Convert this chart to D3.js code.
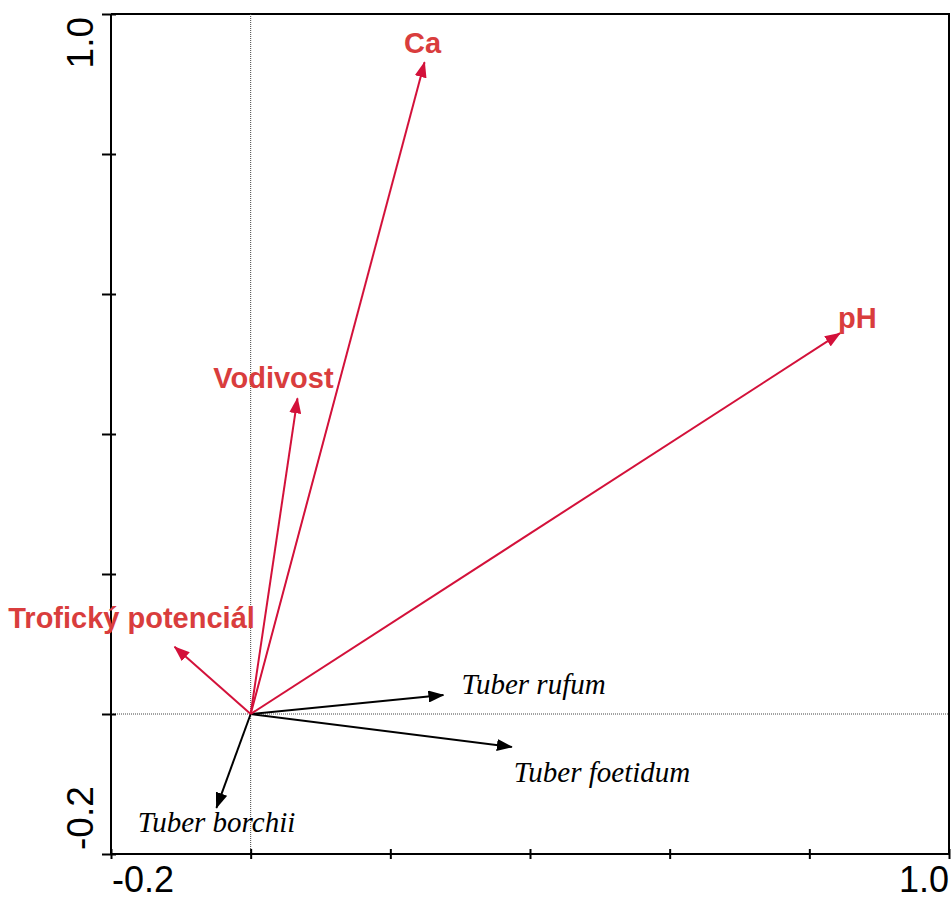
<!DOCTYPE html>
<html>
<head>
<meta charset="utf-8">
<script src="https://cdn.jsdelivr.net/npm/d3@7"></script>
<style>
  body { margin: 0; background: #fff; }
</style>
</head>
<body>
<div id="chart"></div>
<script>
// Environmental variables (red arrows)
const envNames = ["Ca", "pH", "Vodivost", "Trofický potenciál"]
const envX = [0.249, 0.844, 0.067, -0.109]
const envY = [0.931, 0.544, 0.451, 0.096]

// Species (black arrows)
const speciesNames = ["Tuber rufum", "Tuber foetidum", "Tuber borchii"]
const speciesX = [0.276, 0.374, -0.049]
const speciesY = [0.027, -0.047, -0.134]

const domain = [-0.2, 1.0]
const tickValues = [-0.2, 0, 0.2, 0.4, 0.6, 0.8, 1.0]
const endLabels = ["-0.2", "1.0"]

// label placement (pixel offsets from arrow tip)
const envLabelLayout = [
  { anchor: "middle", dx: -2, dy: -9 },
  { anchor: "start", dx: -2, dy: -5 },
  { anchor: "middle", dx: -24, dy: -10 },
  { anchor: "middle", dx: -43, dy: -19 },
]
const speciesLabelLayout = [
  { anchor: "start", dx: 18, dy: -1 },
  { anchor: "start", dx: 2, dy: 35 },
  { anchor: "middle", dx: 0, dy: 24 },
]

const width = 952
const height = 901
const plot = { left: 111, right: 949, top: 14, bottom: 854 }

const svg = d3.select("#chart")
  .append("svg")
  .attr("width", width)
  .attr("height", height)

const xScale = d3.scaleLinear().domain(domain).range([plot.left, plot.right])
const yScale = d3.scaleLinear().domain(domain).range([plot.bottom, plot.top])

const red = "#d3113a"
const redText = "#d93d3d"

const defs = svg.append("defs")
const marker = (id, color) => defs.append("marker")
  .attr("id", id)
  .attr("viewBox", "0 0 16 12")
  .attr("refX", 15)
  .attr("refY", 6)
  .attr("markerWidth", 16)
  .attr("markerHeight", 12)
  .attr("markerUnits", "userSpaceOnUse")
  .attr("orient", "auto")
  .append("path")
  .attr("d", "M0,0 L16,6 L0,12 Z")
  .attr("fill", color)
marker("head-red", red)
marker("head-black", "#000")

// frame: top and right borders
svg.append("path")
  .attr("d", `M${plot.left},${plot.top} H${plot.right} V${plot.bottom}`)
  .attr("fill", "none")
  .attr("stroke", "#000")
  .attr("stroke-width", 2)

// zero lines (dotted)
svg.append("line")
  .attr("x1", xScale(0)).attr("x2", xScale(0))
  .attr("y1", plot.top).attr("y2", plot.bottom)
  .attr("stroke", "#444").attr("stroke-width", 1)
  .attr("stroke-dasharray", "1,1")
svg.append("line")
  .attr("x1", plot.left).attr("x2", plot.right)
  .attr("y1", yScale(0)).attr("y2", yScale(0))
  .attr("stroke", "#444").attr("stroke-width", 1)
  .attr("stroke-dasharray", "1,1")

// axes
const xAxis = svg.append("g")
  .attr("transform", `translate(0,${plot.bottom})`)
  .call(d3.axisBottom(xScale).tickValues(tickValues).tickSize(5).tickFormat(""))
xAxis.select(".domain").attr("stroke-width", 2).attr("d", `M${plot.left},0H${plot.right}`)
xAxis.selectAll(".tick line").attr("y1", -5).attr("stroke-width", 2)

const yAxis = svg.append("g")
  .attr("transform", `translate(${plot.left},0)`)
  .call(d3.axisLeft(yScale).tickValues(tickValues).tickSize(9).tickFormat(""))
yAxis.select(".domain").attr("stroke-width", 2).attr("d", `M0,${plot.top}V${plot.bottom}`)
yAxis.selectAll(".tick line").attr("x2", -9).attr("x1", 5).attr("stroke-width", 2)

// end tick labels
const tickFont = "'Liberation Sans', Arial, sans-serif"
svg.append("text")
  .attr("x", plot.left + 1).attr("y", 892)
  .attr("font-family", tickFont).attr("font-size", 36)
  .text(endLabels[0])
svg.append("text")
  .attr("x", plot.right).attr("y", 892)
  .attr("text-anchor", "end")
  .attr("font-family", tickFont).attr("font-size", 36)
  .text(endLabels[1])
svg.append("text")
  .attr("transform", `translate(93,850) rotate(-90)`)
  .attr("font-family", tickFont).attr("font-size", 37)
  .text(endLabels[0])
svg.append("text")
  .attr("transform", `translate(93,17) rotate(-90)`)
  .attr("text-anchor", "end")
  .attr("font-family", tickFont).attr("font-size", 37)
  .text(endLabels[1])

// arrows
const env = envNames.map((name, i) => ({ name, x: envX[i], y: envY[i], layout: envLabelLayout[i] }))
const species = speciesNames.map((name, i) => ({ name, x: speciesX[i], y: speciesY[i], layout: speciesLabelLayout[i] }))

svg.append("g").selectAll("line")
  .data(species)
  .join("line")
  .attr("x1", xScale(0)).attr("y1", yScale(0))
  .attr("x2", d => xScale(d.x)).attr("y2", d => yScale(d.y))
  .attr("stroke", "#000").attr("stroke-width", 2)
  .attr("marker-end", "url(#head-black)")

svg.append("g").selectAll("line")
  .data(env)
  .join("line")
  .attr("x1", xScale(0)).attr("y1", yScale(0))
  .attr("x2", d => xScale(d.x)).attr("y2", d => yScale(d.y))
  .attr("stroke", red).attr("stroke-width", 2)
  .attr("marker-end", "url(#head-red)")

// labels
svg.append("g").selectAll("text")
  .data(env)
  .join("text")
  .attr("x", d => xScale(d.x) + d.layout.dx)
  .attr("y", d => yScale(d.y) + d.layout.dy)
  .attr("text-anchor", d => d.layout.anchor)
  .attr("font-family", tickFont)
  .attr("font-weight", "bold")
  .attr("font-size", 29)
  .attr("fill", redText)
  .text(d => d.name)

svg.append("g").selectAll("text")
  .data(species)
  .join("text")
  .attr("x", d => xScale(d.x) + d.layout.dx)
  .attr("y", d => yScale(d.y) + d.layout.dy)
  .attr("text-anchor", d => d.layout.anchor)
  .attr("font-family", "'Liberation Serif', 'Times New Roman', serif")
  .attr("font-style", "italic")
  .attr("font-size", 29)
  .attr("fill", "#000")
  .text(d => d.name)
</script>
</body>
</html>
